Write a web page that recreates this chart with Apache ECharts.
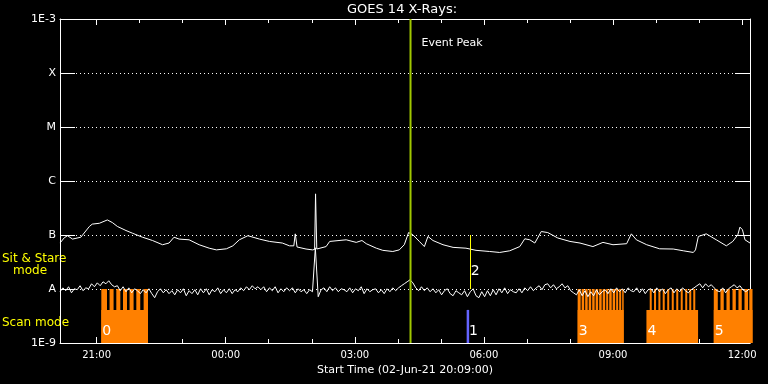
<!DOCTYPE html>
<html><head><meta charset="utf-8">
<script src="https://cdn.jsdelivr.net/npm/echarts@6/dist/echarts.min.js"></script>
<style>html,body{margin:0;padding:0;background:#000}#c{width:768px;height:384px}</style>
</head><body><div id="c"></div>
<script>
// ---- Data (times: minutes since 02-Jun-21 00:00 UT; flux: units of 1e-8 W/m^2) ----
const chartTitle = 'GOES 14 X-Rays:';
const xTitle = 'Start Time (02-Jun-21 20:09:00)';
const axisStart = 1209;   // 20:09
const axisEnd = 2171;     // 12:11 next day
const majorTicks = [1260, 1440, 1620, 1800, 1980, 2160];
const minorTicks = [1320, 1380, 1500, 1560, 1680, 1740, 1860, 1920, 2040, 2100];
const levelLabels = ['1E-9', 'A', 'B', 'C', 'M', 'X', '1E-3'];
const logMin = -9, logMax = -3;

// 1-8 A channel (upper curve)
const longTimes = [1209,1215,1219.5,1226.5,1238,1250,1254,1264,1275,1282,1289,1301,1310,1324,1338,1352,1361,1368,1375,1389,1403,1417,1427,1441,1450,1459,1471,1487,1501,1519,1529,1535,1537,1539.5,1552,1561,1564,1565.3,1567,1568.5,1580,1585,1608,1622,1630,1636,1650,1659,1673,1682,1689,1695,1701,1710,1717,1722,1729,1743,1757,1775,1789,1808,1822,1836,1850,1857,1864,1871,1880,1889,1903,1920,1934,1952,1966,1980,1999,2005.6,2012.6,2027,2045,2064,2078,2092,2095,2099,2110,2124,2138,2147,2154,2157,2160.5,2164,2171];
const longFlux = [7.1,8.9,9.7,8.4,9.1,14.4,15.9,16.5,19.0,17.0,14.4,12.1,10.8,9.1,7.9,6.6,7.1,9.1,8.4,8.15,6.6,5.7,5.3,5.55,6.3,8.15,9.7,8.4,7.6,7.1,6.3,6.3,10.5,6.0,5.5,5.3,5.4,57.8,5.5,5.7,6.1,7.6,8.15,7.3,7.9,6.9,5.7,5.2,4.95,5.3,6.6,11.1,10.1,7.6,6.1,9.4,7.9,6.6,5.9,5.7,5.2,4.95,4.75,5.1,6.1,8.5,8.15,7.1,11.6,11.1,8.8,7.6,7.1,6.1,7.3,6.6,6.9,10.5,8.15,6.6,5.55,5.5,5.1,4.75,5.3,9.4,10.5,8.15,6.3,7.6,10.1,14.0,12.5,8.15,7.1];

// 0.5-4 A channel (lower curve), sampled every 4 minutes from 20:09
const shortStart = 1209, shortStep = 4;
const shortFlux = [
0.89,1.05,0.93,1.10,0.85,1.01,0.97,1.15,0.93,1.05,
1.01,1.25,1.10,1.30,1.15,1.36,1.25,1.42,1.20,1.10,
1.15,0.93,1.10,0.89,1.05,0.85,1.01,0.93,0.82,0.97,
0.85,1.01,0.82,0.69,0.89,1.01,0.85,0.97,0.82,0.93,
0.78,0.97,0.85,1.01,0.75,0.93,0.82,0.97,0.78,1.01,
0.85,1.01,0.78,0.97,0.89,1.05,0.82,0.97,0.85,1.01,
0.82,0.97,0.89,1.05,0.93,1.10,0.97,1.15,1.01,1.10,
0.97,1.10,0.89,1.05,0.93,1.10,0.85,1.01,0.89,1.05,
0.93,1.05,0.85,1.01,0.89,0.97,0.82,0.97,0.89,5.8,
0.72,0.97,1.05,0.89,1.10,0.93,1.05,0.89,1.01,0.97,
0.89,1.05,0.85,1.01,0.93,1.10,0.82,1.01,0.89,0.97,
1.01,0.85,0.97,0.82,1.01,0.89,1.05,0.93,1.05,1.15,
1.25,1.36,1.48,1.30,1.05,0.93,1.10,0.93,1.05,0.89,
1.01,0.85,0.97,0.78,0.93,1.01,0.82,0.75,0.93,0.85,
0.78,0.93,0.72,0.89,1.01,0.75,0.69,0.89,0.72,0.93,
0.75,0.97,0.78,1.01,0.85,1.05,0.82,0.97,0.89,0.85,
1.01,0.85,1.05,0.93,1.10,0.93,1.05,1.15,0.97,1.20,
1.25,1.05,1.20,1.01,1.10,1.25,1.05,1.15,0.93,0.85,
0.78,0.97,0.75,0.93,0.72,0.89,0.75,0.97,0.78,0.89,
0.97,0.82,1.01,0.85,1.05,0.89,1.01,0.85,1.05,0.93,
0.89,1.05,0.85,1.01,0.82,0.97,1.01,0.85,1.05,0.89,
1.01,0.82,0.97,1.05,0.85,1.01,0.89,1.05,0.93,0.85,
0.97,1.05,1.15,1.25,1.05,1.25,1.10,1.20,1.05,0.93,
0.89,1.05,0.85,1.01,1.10,1.20,1.05,1.15,0.97,0.89,0.97];

// Scan-mode periods (orange) and their frames
const scanIds = ['0', '3', '4', '5'];
const scanStart = [1266.6, 1930.7, 2026.6, 2120.5];
const scanEnd = [1331.7, 1994.9, 2098.6, 2174.5];
const scanBlockTop = 0.41;   // flux level of the solid block top
const scanFrameTop = 1.0;    // flux level of the frame tines
const scanFrames = [
  [[1266.6,1274.5],[1278.1,1283.7],[1287.5,1293.1],[1296.8,1302.4],[1306.0,1311.6],[1315.4,1320.9],[1325.6,1331.7]],
  [[1930.7,1934.9],[1936.3,1939.8],[1941.2,1944.7],[1946.1,1949.6],[1951.0,1954.4],[1955.8,1959.3],[1960.7,1964.2],[1965.6,1969.1],[1970.5,1973.3],[1974.7,1978.2],[1979.5,1983.0],[1984.4,1987.2],[1988.6,1991.4],[1992.8,1994.9]],
  [[2031.2,2034.0],[2037.2,2040.0],[2043.3,2046.1],[2049.3,2052.1],[2055.6,2058.4],[2061.9,2064.7],[2068.2,2071.0],[2074.4,2077.2],[2080.7,2083.5],[2086.3,2089.1],[2091.9,2094.7]],
  [[2120.5,2126.1],[2129.8,2134.4],[2138.2,2142.8],[2146.6,2151.2],[2154.9,2159.5],[2163.3,2168.3],[2170.0,2174.5]]
];

// Event markers
const eventPeakTime = 1697.7, eventPeakLabel = 'Event Peak';
const marker1Time = 1777.7, marker1Label = '1', marker1Top = 0.41;
const marker2Time = 1780.4, marker2Label = '2', marker2Low = 1.0, marker2High = 10.0;

const sitStareText = ['Sit & Stare', 'mode'];
const scanModeText = 'Scan mode';

// ---- Build chart ----
const FONT = '"DejaVu Sans", sans-serif';
const ORANGE = '#ff8000', GREEN = '#a0c800', BLUE = '#6464ff', YELLOW = '#ffff00';
const toLog = f => Math.log10(f * 1e-8);
const fmtTime = v => {
  const m = Math.round(((v % 1440) + 1440) % 1440);
  return String(Math.floor(m / 60)).padStart(2, '0') + ':' + String(m % 60).padStart(2, '0');
};

const rectData = [];
scanIds.forEach((id, g) => {
  rectData.push([scanStart[g], scanEnd[g], scanBlockTop]);
  scanFrames[g].forEach(fr => rectData.push([fr[0], fr[1], scanFrameTop]));
});

const baseX = {
  type: 'value', min: axisStart, max: axisEnd,
  splitLine: { show: false }, axisLine: { show: false },
  axisLabel: { show: false }, axisTick: { show: false }
};
const white = { color: '#fff', width: 1 };

const option = {
  backgroundColor: '#000',
  animation: false,
  grid: { left: 60, right: 18, top: 19, bottom: 41 },
  xAxis: [
    Object.assign({}, baseX, {
      position: 'bottom',
      axisLine: { show: true, lineStyle: white },
      axisTick: { show: true, inside: true, length: 6, customValues: majorTicks, lineStyle: white },
      axisLabel: { show: true, customValues: majorTicks, formatter: fmtTime, color: '#fff', fontFamily: FONT, fontSize: 10, margin: 7 },
      name: xTitle, nameLocation: 'middle', nameGap: 20,
      nameTextStyle: { color: '#fff', fontFamily: FONT, fontSize: 11 }
    }),
    Object.assign({}, baseX, {
      position: 'bottom',
      axisTick: { show: true, inside: true, length: 4, customValues: minorTicks, lineStyle: white }
    }),
    Object.assign({}, baseX, {
      position: 'top',
      axisLine: { show: true, lineStyle: white },
      axisTick: { show: true, inside: true, length: 6, customValues: majorTicks, lineStyle: white }
    }),
    Object.assign({}, baseX, {
      position: 'top',
      axisTick: { show: true, inside: true, length: 4, customValues: minorTicks, lineStyle: white }
    })
  ],
  yAxis: [
    {
      type: 'value', min: logMin, max: logMax, interval: 1, position: 'left',
      axisLine: { show: true, lineStyle: white },
      axisTick: { show: true, inside: true, length: 15, lineStyle: white },
      axisLabel: { color: '#fff', fontFamily: FONT, fontSize: 11, margin: 4,
        formatter: v => levelLabels[Math.round(v) - logMin] },
      splitLine: { show: true, lineStyle: { color: '#fff', width: 1, type: [1, 3] } }
    },
    {
      type: 'value', min: logMin, max: logMax, interval: 1, position: 'right',
      axisLine: { show: true, lineStyle: white },
      axisTick: { show: true, inside: true, length: 15, lineStyle: white },
      axisLabel: { show: false }, splitLine: { show: false }
    }
  ],
  graphic: [
    { type: 'text', x: 402, y: 10, style: { text: chartTitle, fill: '#fff', font: '13px ' + FONT, align: 'center', verticalAlign: 'middle' } },
    { type: 'text', x: 2, y: 258.5, style: { text: sitStareText[0], fill: YELLOW, font: '12px ' + FONT, align: 'left', verticalAlign: 'middle' } },
    { type: 'text', x: 13, y: 271, style: { text: sitStareText[1], fill: YELLOW, font: '12px ' + FONT, align: 'left', verticalAlign: 'middle' } },
    { type: 'text', x: 2, y: 323, style: { text: scanModeText, fill: YELLOW, font: '12px ' + FONT, align: 'left', verticalAlign: 'middle' } }
  ],
  series: [
    {
      name: 'Scan mode', type: 'custom', clip: false, z: 1,
      xAxisIndex: 0, yAxisIndex: 0,
      encode: { x: [0, 1], y: 2 },
      data: rectData,
      renderItem: (params, api) => {
        const p0 = api.coord([api.value(0), logMin]);
        const p1 = api.coord([api.value(1), toLog(api.value(2))]);
        return { type: 'rect', shape: { x: p0[0], y: p1[1], width: p1[0] - p0[0], height: p0[1] - p1[1] }, style: { fill: ORANGE } };
      }
    },
    {
      name: 'Scan labels', type: 'custom', clip: false, z: 6,
      xAxisIndex: 0, yAxisIndex: 0,
      data: scanStart.map(t => [t, logMin]),
      renderItem: (params, api) => {
        const p = api.coord([api.value(0), logMin]);
        return { type: 'text', x: p[0] + 1, y: p[1] - 5, style: { text: scanIds[params.dataIndex], fill: '#fff', font: '14px ' + FONT, align: 'left', verticalAlign: 'bottom' } };
      }
    },
    {
      name: 'GOES long', type: 'line', z: 3, xAxisIndex: 0, yAxisIndex: 0,
      showSymbol: false, symbol: 'none',
      lineStyle: { color: '#fff', width: 1 },
      data: longTimes.map((t, i) => [t, toLog(longFlux[i])])
    },
    {
      name: 'GOES short', type: 'line', z: 3, xAxisIndex: 0, yAxisIndex: 0,
      showSymbol: false, symbol: 'none',
      lineStyle: { color: '#fff', width: 1 },
      data: shortFlux.map((f, i) => [shortStart + i * shortStep, toLog(f)])
    },
    {
      name: 'Marker 1', type: 'custom', clip: false, z: 4, xAxisIndex: 0, yAxisIndex: 0,
      data: [[marker1Time, marker1Top]],
      renderItem: (params, api) => {
        const p0 = api.coord([api.value(0), logMin]);
        const p1 = api.coord([api.value(0), toLog(api.value(1))]);
        return { type: 'group', children: [
          { type: 'rect', shape: { x: p0[0] - 1.25, y: p1[1], width: 2.5, height: p0[1] - p1[1] }, style: { fill: BLUE } },
          { type: 'text', x: p0[0] + 1, y: p0[1] - 5, style: { text: marker1Label, fill: '#fff', font: '14px ' + FONT, align: 'left', verticalAlign: 'bottom' } }
        ] };
      }
    },
    {
      name: 'Marker 2', type: 'custom', clip: false, z: 4, xAxisIndex: 0, yAxisIndex: 0,
      data: [[marker2Time, marker2Low, marker2High]],
      renderItem: (params, api) => {
        const p0 = api.coord([api.value(0), toLog(api.value(1))]);
        const p1 = api.coord([api.value(0), toLog(api.value(2))]);
        return { type: 'group', children: [
          { type: 'line', shape: { x1: Math.round(p0[0]) + 0.5, y1: p0[1], x2: Math.round(p0[0]) + 0.5, y2: p1[1] }, style: { stroke: YELLOW, lineWidth: 1 } },
          { type: 'text', x: p0[0] + 1, y: p0[1] - 11, style: { text: marker2Label, fill: '#fff', font: '14px ' + FONT, align: 'left', verticalAlign: 'bottom' } }
        ] };
      }
    },
    {
      name: 'Event Peak', type: 'custom', clip: false, z: 5, xAxisIndex: 0, yAxisIndex: 0,
      data: [[eventPeakTime]],
      renderItem: (params, api) => {
        const p0 = api.coord([api.value(0), logMin]);
        const p1 = api.coord([api.value(0), logMax]);
        return { type: 'group', children: [
          { type: 'line', shape: { x1: p0[0], y1: p0[1], x2: p1[0], y2: p1[1] }, style: { stroke: GREEN, lineWidth: 2 } },
          { type: 'text', x: p1[0] + 11, y: p1[1] + 24, style: { text: eventPeakLabel, fill: '#fff', font: '11px ' + FONT, align: 'left', verticalAlign: 'middle' } }
        ] };
      }
    }
  ]
};

const chart = echarts.init(document.getElementById('c'), null, { renderer: 'canvas' });
chart.setOption(option);
</script></body></html>
